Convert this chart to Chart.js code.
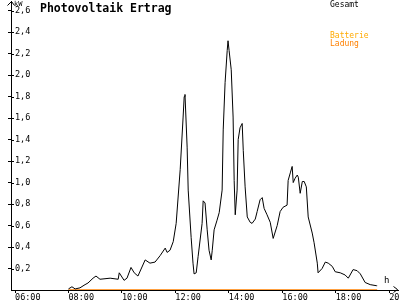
<!DOCTYPE html>
<html>
<head>
<meta charset="utf-8">
<script src="https://cdn.jsdelivr.net/npm/chart.js@4.4.0/dist/chart.umd.min.js"></script>
<style>
body { margin: 0; background: #fff; }
#wrap { position: relative; width: 400px; height: 300px; }
.txt { position: absolute; font-family: "DejaVu Sans Mono", monospace; white-space: nowrap; line-height: 1; }
</style>
</head>
<body>
<div id="wrap">
  <canvas id="myChart" width="400" height="300"></canvas>
  <div class="txt" style="left:40px;top:3px;font-size:11.5px;font-weight:bold;">Photovoltaik Ertrag</div>
  <div class="txt" style="left:14px;top:1px;font-size:7px;">kW</div>
  <div class="txt" style="left:384px;top:276px;font-size:9px;">h</div>
  <div class="txt" style="left:330px;top:1px;font-size:8px;color:#000;">Gesamt</div>
  <div class="txt" style="left:330px;top:32px;font-size:8px;color:#ffaa00;">Batterie</div>
  <div class="txt" style="left:330px;top:40px;font-size:8px;color:#ff8000;">Ladung</div>
</div>
<script>
// Zeit in Stunden, Leistung in kW
var stunden = [8.0, 8.13, 8.25, 8.43, 8.62, 8.73, 8.92, 9.03, 9.18, 9.56, 9.86, 9.9, 10.08, 10.19, 10.34, 10.46, 10.6,
  10.87, 11.05, 11.24, 11.43, 11.62, 11.69, 11.8, 11.92, 12.03, 12.18, 12.29, 12.33, 12.36, 12.44, 12.48, 12.59,
  12.66, 12.7, 12.78, 12.85, 13.0, 13.04, 13.11, 13.19, 13.26, 13.34, 13.38, 13.45, 13.56, 13.64, 13.75, 13.79,
  13.86, 13.94, 13.97, 14.01, 14.09, 14.16, 14.2, 14.24, 14.31, 14.35, 14.42, 14.5, 14.54, 14.61, 14.69, 14.8,
  14.87, 14.99, 15.06, 15.17, 15.25, 15.32, 15.43, 15.55, 15.66, 15.81, 15.92, 16.03, 16.18, 16.22, 16.3, 16.37,
  16.41, 16.48, 16.56, 16.6, 16.67, 16.75, 16.82, 16.9, 16.97, 17.12, 17.19, 17.31, 17.34, 17.49, 17.61, 17.72,
  17.87, 17.98, 18.17, 18.35, 18.47, 18.65, 18.8, 18.92, 19.1, 19.29, 19.52, 19.55];
var gesamt = [0.01, 0.03, 0.01, 0.02, 0.05, 0.065, 0.11, 0.13, 0.10, 0.11, 0.10, 0.16, 0.09, 0.11, 0.21, 0.16, 0.13,
  0.28, 0.25, 0.26, 0.32, 0.39, 0.35, 0.37, 0.45, 0.62, 1.12, 1.61, 1.80, 1.82, 1.33, 0.93, 0.49,
  0.25, 0.15, 0.16, 0.31, 0.62, 0.83, 0.81, 0.56, 0.37, 0.28, 0.37, 0.56, 0.65, 0.72, 0.93, 1.49,
  1.93, 2.23, 2.32, 2.23, 2.05, 1.61, 1.02, 0.70, 0.93, 1.40, 1.51, 1.55, 1.30, 0.96, 0.68, 0.63,
  0.62, 0.66, 0.73, 0.84, 0.86, 0.76, 0.70, 0.63, 0.48, 0.60, 0.73, 0.77, 0.79, 1.02, 1.09, 1.15,
  1.00, 1.04, 1.07, 1.05, 0.90, 1.01, 1.01, 0.96, 0.68, 0.53, 0.44, 0.25, 0.16, 0.20, 0.26, 0.25,
  0.22, 0.17, 0.16, 0.14, 0.11, 0.19, 0.18, 0.15, 0.07, 0.05, 0.04, 0.04];
var ladungStunden = [8.0, 19.55];
var ladung = [0, 0];
var xTicks = [6, 8, 10, 12, 14, 16, 18, 20];
var yTicks = [0.2, 0.4, 0.6, 0.8, 1.0, 1.2, 1.4, 1.6, 1.8, 2.0, 2.2, 2.4, 2.6];

function punkte(xs, ys) {
    return xs.map(function (x, i) { return { x: x, y: ys[i] }; });
}

// Pfeile an den Achsenenden, Teilstriche nach innen verlaengert
var pfeile = {
    id: 'pfeile',
    afterDraw: function (chart) {
        var ctx = chart.ctx;
        var a = chart.chartArea;
        var ys = chart.scales.y;
        ctx.save();
        ctx.strokeStyle = '#000';
        ctx.lineWidth = 1;
        ctx.beginPath();
        ctx.moveTo(a.left - 3.5, a.top + 4.5);
        ctx.lineTo(a.left + 0.5, a.top + 0.5);
        ctx.lineTo(a.left + 3.5, a.top + 4.5);
        ctx.moveTo(a.right - 4.5, a.bottom - 3.5);
        ctx.lineTo(a.right - 0.5, a.bottom - 0.5);
        ctx.lineTo(a.right - 4.5, a.bottom + 2.5);
        yTicks.forEach(function (v) {
            var py = Math.round(ys.getPixelForValue(v)) + 0.5;
            ctx.moveTo(a.left, py);
            ctx.lineTo(a.left + 3, py);
        });
        ctx.stroke();
        ctx.restore();
    }
};

var myChart = new Chart(document.getElementById('myChart').getContext('2d'), {
    type: 'line',
    data: {
        datasets: [{
            label: 'Gesamt',
            data: punkte(stunden, gesamt),
            borderColor: '#000',
            borderWidth: 1,
            pointRadius: 0,
            tension: 0
        }, {
            label: 'Batterie Ladung',
            data: punkte(ladungStunden, ladung),
            borderColor: '#ff8000',
            borderWidth: 1.5,
            pointRadius: 0,
            tension: 0
        }]
    },
    options: {
        responsive: false,
        animation: false,
        layout: { padding: { top: 1, right: 2, left: 0, bottom: 0 } },
        plugins: { legend: { display: false }, tooltip: { enabled: false } },
        scales: {
            x: {
                type: 'linear',
                min: 5.85,
                max: 20.33,
                afterBuildTicks: function (s) { s.ticks = xTicks.map(function (v) { return { value: v }; }); },
                afterFit: function (s) { s.height = 10; s.paddingLeft = 0; s.paddingRight = 0; },
                border: { color: '#000', width: 1 },
                grid: { drawOnChartArea: false, color: '#000', tickLength: 3 },
                ticks: {
                    color: '#000',
                    padding: 0,
                    align: 'start',
                    maxRotation: 0,
                    autoSkip: false,
                    font: { family: 'DejaVu Sans Mono', size: 8.5 },
                    callback: function (v) { return (v < 10 ? '0' : '') + v + ':00'; }
                }
            },
            y: {
                min: 0,
                max: 2.69,
                afterBuildTicks: function (s) { s.ticks = yTicks.map(function (v) { return { value: v }; }); },
                afterFit: function (s) { s.width = 11; s.paddingTop = 0; s.paddingBottom = 0; },
                border: { color: '#000', width: 1 },
                grid: { drawOnChartArea: false, color: '#000', tickLength: 3 },
                ticks: {
                    color: '#000',
                    mirror: true,
                    padding: 4,
                    autoSkip: false,
                    font: { family: 'DejaVu Sans Mono', size: 8.5 },
                    callback: function (v) { return v.toFixed(1).replace('.', ','); }
                }
            }
        }
    },
    plugins: [pfeile]
});
</script>
</body>
</html>
